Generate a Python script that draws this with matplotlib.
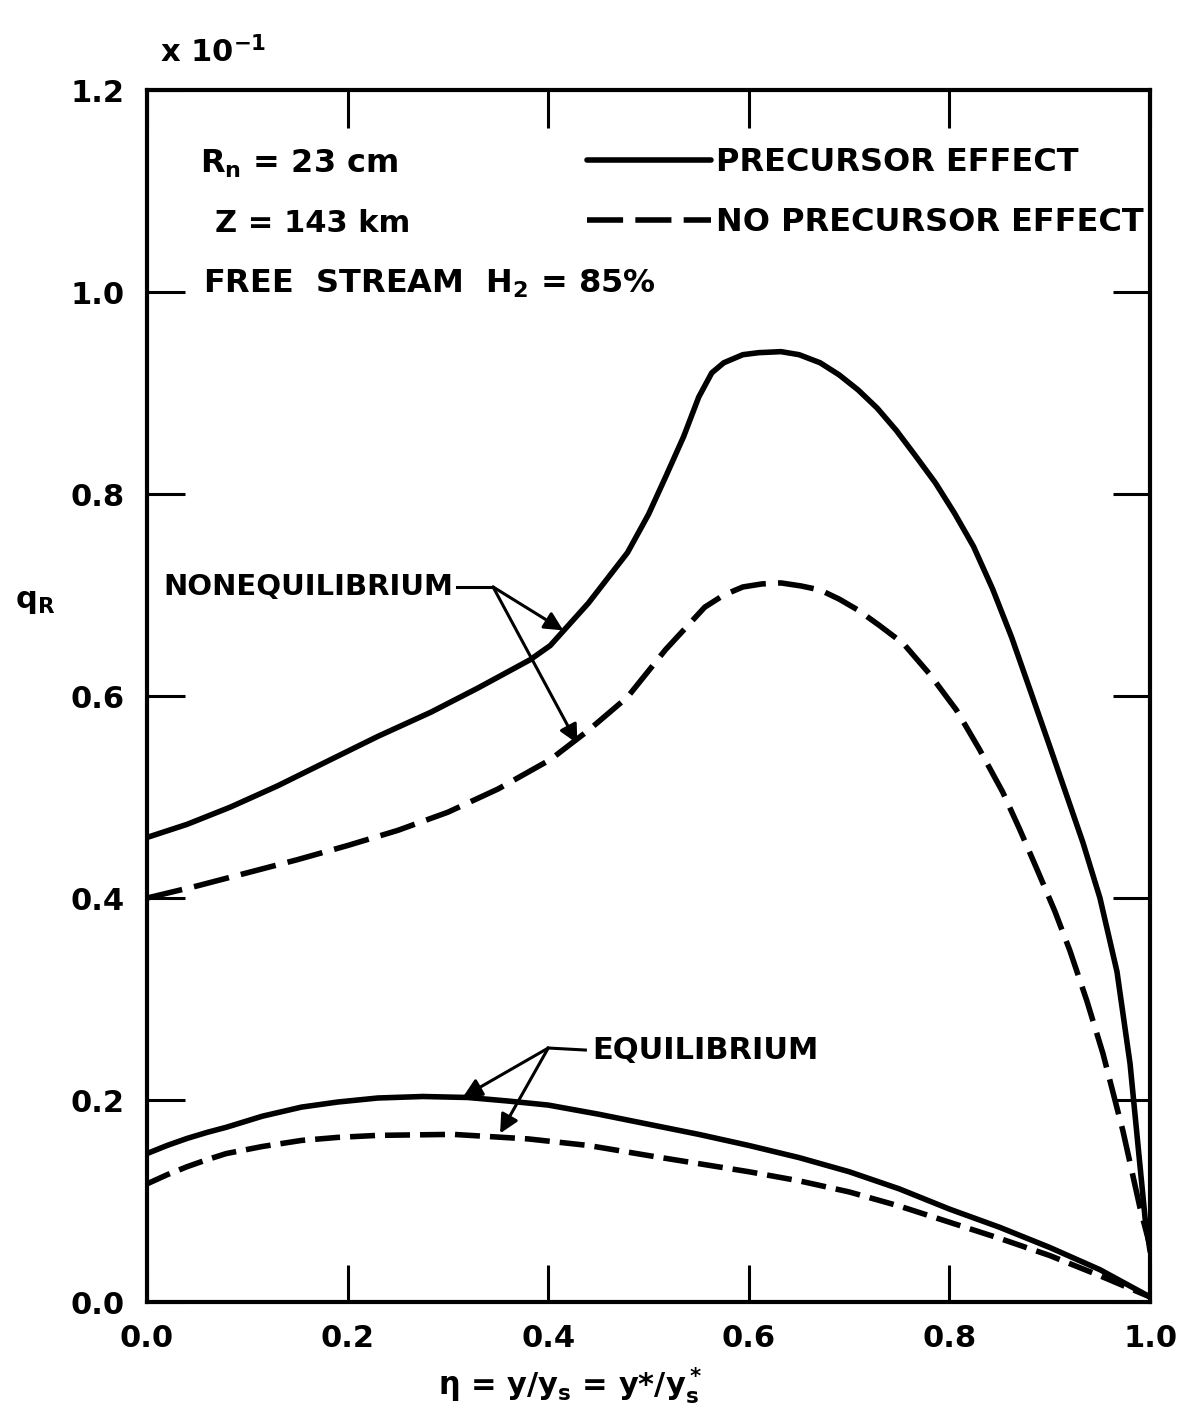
import numpy as np
import matplotlib
matplotlib.use("Agg")
import matplotlib.pyplot as plt

# readings (q_R in units of 10^-1)
eta_neq_pre = [0.0, 0.04, 0.083, 0.13, 0.183, 0.23, 0.283, 0.33, 0.382, 0.402, 0.44, 0.479,
               0.50, 0.517, 0.535, 0.55, 0.563, 0.575, 0.594, 0.61, 0.632, 0.65, 0.671, 0.69,
               0.709, 0.728, 0.747, 0.766, 0.786, 0.805, 0.824, 0.843, 0.862, 0.88, 0.90,
               0.933, 0.95, 0.967, 0.98, 0.99, 0.995, 1.0]
q_neq_pre = [0.460, 0.473, 0.490, 0.511, 0.537, 0.560, 0.584, 0.608, 0.636, 0.650, 0.692, 0.742,
             0.780, 0.817, 0.857, 0.896, 0.920, 0.930, 0.938, 0.940, 0.941, 0.938, 0.930, 0.918,
             0.903, 0.885, 0.863, 0.838, 0.811, 0.781, 0.748, 0.706, 0.658, 0.607, 0.550,
             0.455, 0.400, 0.327, 0.236, 0.134, 0.083, 0.050]

eta_neq_nopre = [0.0, 0.05, 0.1, 0.15, 0.2, 0.25, 0.3, 0.35, 0.402, 0.44, 0.479, 0.517, 0.556,
                 0.575, 0.594, 0.613, 0.632, 0.652, 0.671, 0.69, 0.709, 0.73, 0.754, 0.78,
                 0.807, 0.83, 0.853, 0.87, 0.887, 0.905, 0.92, 0.937, 0.953, 0.973, 0.99, 1.0]
q_neq_nopre = [0.400, 0.412, 0.425, 0.438, 0.452, 0.467, 0.485, 0.508, 0.537, 0.566, 0.599,
               0.646, 0.688, 0.700, 0.708, 0.711, 0.712, 0.709, 0.705, 0.696, 0.685, 0.670,
               0.652, 0.622, 0.586, 0.547, 0.505, 0.468, 0.429, 0.387, 0.348, 0.298, 0.246,
               0.169, 0.093, 0.055]

eta_eq_pre = [0.0, 0.02, 0.04, 0.06, 0.079, 0.115, 0.154, 0.19, 0.23, 0.275, 0.32, 0.36, 0.40,
              0.45, 0.50, 0.55, 0.60, 0.65, 0.70, 0.75, 0.80, 0.85, 0.90, 0.95, 1.0]
q_eq_pre = [0.147, 0.155, 0.162, 0.168, 0.173, 0.184, 0.193, 0.198, 0.202, 0.2035, 0.2025,
            0.199, 0.195, 0.186, 0.176, 0.166, 0.155, 0.143, 0.129, 0.112, 0.092, 0.074,
            0.054, 0.032, 0.005]

eta_eq_nopre = [0.0, 0.02, 0.04, 0.06, 0.079, 0.115, 0.154, 0.19, 0.23, 0.305, 0.38, 0.44,
                0.50, 0.55, 0.60, 0.65, 0.70, 0.75, 0.80, 0.85, 0.90, 0.95, 1.0]
q_eq_nopre = [0.117, 0.126, 0.134, 0.141, 0.147, 0.154, 0.160, 0.163, 0.165, 0.166, 0.1615,
              0.155, 0.145, 0.137, 0.129, 0.120, 0.109, 0.095, 0.079, 0.063, 0.046, 0.026,
              0.005]

x_ticks = [0.0, 0.2, 0.4, 0.6, 0.8, 1.0]
y_ticks = [0.0, 0.2, 0.4, 0.6, 0.8, 1.0, 1.2]

plt.rcParams['font.family'] = ['DejaVu Sans']
plt.rcParams['font.weight'] = 'bold'
plt.rcParams['mathtext.fontset'] = 'dejavusans'
plt.rcParams['mathtext.default'] = 'bf'

FS = 22

fig = plt.figure(figsize=(11.79, 14.25), dpi=100)
ax = fig.add_axes([0.1247, 0.0863, 0.8508, 0.8505])

lw = 4
style = dict(color='black', lw=lw, solid_capstyle='round', solid_joinstyle='round')
solid, = ax.plot(eta_neq_pre, q_neq_pre, **style)
dashed, = ax.plot(eta_neq_nopre, q_neq_nopre, dashes=(6.5, 2.2), **style)
ax.plot(eta_eq_pre, q_eq_pre, **style)
ax.plot(eta_eq_nopre, q_eq_nopre, dashes=(4.5, 1.8), **style)

ax.set_xlim(0, 1.0)
ax.set_ylim(0, 1.2)
ax.set_xticks(x_ticks)
ax.set_yticks(y_ticks)
ax.set_xticklabels([f"{v:.1f}" for v in x_ticks], fontsize=FS, fontweight='bold')
ax.set_yticklabels([f"{v:.1f}" for v in y_ticks], fontsize=FS, fontweight='bold')
ax.tick_params(direction='in', length=27, width=2.2, pad=16,
               top=True, right=True, labeltop=False, labelright=False)
for s in ax.spines.values():
    s.set_linewidth(3)

# legend of line styles
ax.legend([solid, dashed], ["PRECURSOR EFFECT", "NO PRECURSOR EFFECT"],
          loc='upper right', bbox_to_anchor=(1.0, 0.958), frameon=False,
          handlelength=3.9, handletextpad=0.15, labelspacing=0.9,
          borderaxespad=0, borderpad=0.2,
          prop={'size': 23, 'weight': 'bold'})

# condition labels
ax.text(0.053, 1.118, r"R$_n$ = 23 cm", fontsize=23, fontweight='bold')
ax.text(0.068, 1.059, "Z = 143 km", fontsize=FS, fontweight='bold')
ax.text(0.056, 0.999, r"FREE  STREAM  H$_2$ = 85%", fontsize=23, fontweight='bold')

ax.text(0.013, 1.227, r"x 10$^{-1}$", fontsize=FS, fontweight='bold', clip_on=False)
ax.text(-0.132, 0.687, r"q$_R$", fontsize=FS, fontweight='bold', clip_on=False)
ax.text(0.422, -0.092, r"$\eta$ = y/y$_s$ = y*/y$_s^*$", fontsize=FS,
        fontweight='bold', ha='center', clip_on=False)

# curve labels with leaders
arrow = dict(arrowstyle='-|>', color='black', lw=2.2, mutation_scale=28, shrinkA=0, shrinkB=0)
ax.text(0.305, 0.708, "NONEQUILIBRIUM", fontsize=21, fontweight='bold', ha='right', va='center')
ax.plot([0.309, 0.345], [0.708, 0.708], color='black', lw=2.2)
ax.annotate("", xy=(0.415, 0.665), xytext=(0.345, 0.708), arrowprops=arrow)
ax.annotate("", xy=(0.429, 0.553), xytext=(0.345, 0.708), arrowprops=arrow)

ax.text(0.444, 0.2495, "EQUILIBRIUM", fontsize=FS, fontweight='bold', ha='left', va='center')
ax.plot([0.437, 0.400], [0.2495, 0.2515], color='black', lw=2.2)
ax.annotate("", xy=(0.315, 0.203), xytext=(0.400, 0.2515), arrowprops=arrow)
ax.annotate("", xy=(0.352, 0.167), xytext=(0.400, 0.2515), arrowprops=arrow)

fig.savefig("out.png", dpi=100)
